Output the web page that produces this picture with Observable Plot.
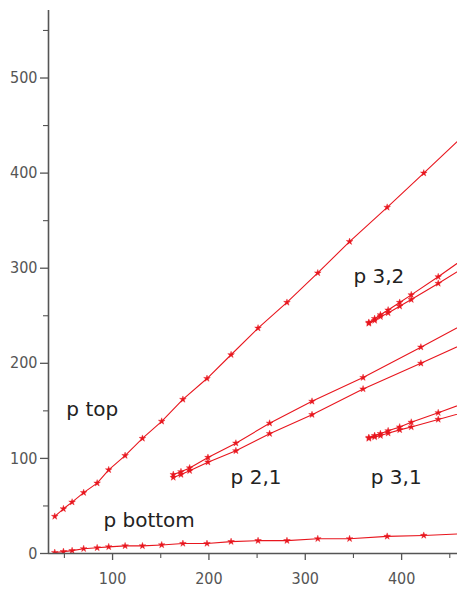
<!DOCTYPE html>
<html><head><meta charset="utf-8">
<script src="https://cdn.jsdelivr.net/npm/d3@7"></script>
<script src="https://cdn.jsdelivr.net/npm/@observablehq/plot@0.6"></script>
<style>body{margin:0;background:#fff} svg{display:block}</style>
</head><body><div id="chart"></div>
<script>
// shared x positions for p top / p bottom
const xBase = [40,49,58,70,84,96,113,131,151,173,198,223,251,281,313,346,385,423,470];
const pTop = [39,47,54,64,74,88,103,121,139,162,184,209,237,264,295,328,364,400,445];
const pBottom = [1,2,3,5,6,7,8,8,9,10.5,10.5,12.5,13.5,13.5,15.5,15.5,18,19,21];
// p 2,1
const x21 = [163,171,180,199,228,263,307,360,420,470];
const p21a = [83,86,90,101,116,137,160,185,217,244];
const p21b = [80,83,87,96,108,126,146,173,200,223];
// p 3,1 and p 3,2
const x3 = [366,372,378,386,398,410,438,470];
const p31a = [122,124,126,129,133,138,148,160];
const p31b = [121,122.5,124,126.5,130,133,141,150];
const p32a = [243,247,251,256,264,272,291,314];
const p32b = [242,245,249,253,260,267,284,304];
// labels
const labelText = ["p top","p bottom","p 2,1","p 3,1","p 3,2"];
const labelX = [52,90.5,222.5,368,350];
const labelY = [151,35,80,80,291];
// ticks
const yMajor = [0,100,200,300,400,500];
const yMinor = [50,150,250,350,450,550];
const xMajor = [100,200,300,400];
const xMinor = [50,150,250,350,450];

const series = [];
function add(name, xs, ys){ xs.forEach((x,i)=>series.push({name, x, y: ys[i]})); }
add("top", xBase, pTop);
add("bottom", xBase, pBottom);
add("21a", x21, p21a);
add("21b", x21, p21b);
add("31a", x3, p31a);
add("31b", x3, p31b);
add("32a", x3, p32a);
add("32b", x3, p32b);
const labels = labelText.map((t,i)=>({t, x: labelX[i], y: labelY[i]}));

const red = "#e8161e";
const axisColor = "#555";
const tickFont = "'Liberation Sans Narrow','DejaVu Sans Condensed',sans-serif";

const chart = Plot.plot({
  width: 457, height: 592,
  marginLeft: 48, marginRight: 0, marginTop: 10, marginBottom: 39,
  style: {background: "#fff", fontFamily: tickFont},
  x: {domain: [33.5, 458]},
  y: {domain: [0, 571]},
  marks: [
    Plot.line(series, {x: "x", y: "y", z: "name", stroke: red, strokeWidth: 1.1, clip: true}),
    Plot.dot(series, {x: "x", y: "y", symbol: "star", r: 2.1, fill: red, stroke: red, strokeWidth: 0.4, clip: true}),
    Plot.text(labels, {x: "x", y: "y", text: "t", textAnchor: "start", lineAnchor: "middle",
      fontSize: 20, fill: "#222", fontFamily: "'DejaVu Sans',sans-serif", style: {letterSpacing: "0.6px"}}),
    Plot.axisY({ticks: yMajor, tickSize: 8, tickPadding: 3, fontSize: 16, color: axisColor, tickFormat: d => String(d), strokeWidth: 1.3, label: null}),
    Plot.axisY({ticks: yMinor, tickSize: 5, tickFormat: () => "", color: axisColor, strokeWidth: 1.1, label: null}),
    Plot.axisX({ticks: xMajor, tickSize: 7, tickPadding: 12, fontSize: 16, color: axisColor, tickFormat: d => String(d), strokeWidth: 1.3, label: null}),
    Plot.axisX({ticks: xMinor, tickSize: 5, tickFormat: () => "", color: axisColor, strokeWidth: 1.1, label: null}),
    Plot.ruleX([33.5], {y1: 0, y2: 571, stroke: axisColor, strokeWidth: 1.6}),
    Plot.ruleY([0], {stroke: axisColor, strokeWidth: 1.6})
  ]
});
document.getElementById("chart").append(chart);
</script>
</body></html>
